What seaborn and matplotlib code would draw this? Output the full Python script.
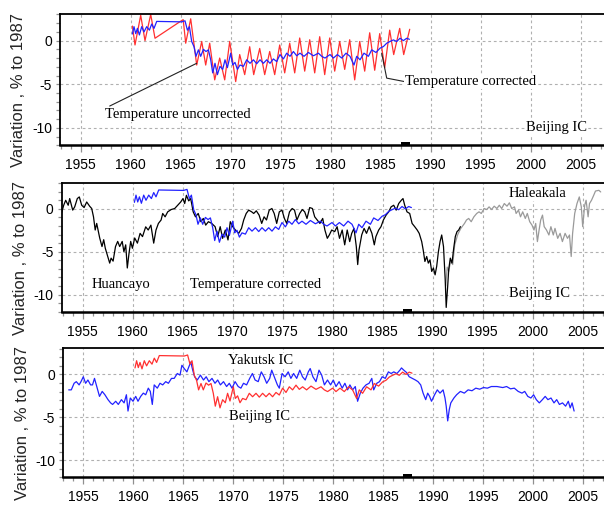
import matplotlib
matplotlib.use("Agg")
import matplotlib.pyplot as plt
import seaborn as sns
import numpy as np
from matplotlib.ticker import MultipleLocator

# ---------------- data ----------------
# Beijing IC, temperature corrected
BJ_C_YEAR = [1960.17, 1960.33, 1960.5, 1960.67, 1960.87, 1961.1, 1961.33, 1961.6, 1961.87, 1962.1,
             1962.33, 1962.6, 1965.1, 1965.43, 1965.67, 1965.87, 1966.1, 1966.33, 1966.53, 1966.77,
             1967.0, 1967.27, 1967.53, 1967.77, 1968.0, 1968.2, 1968.43, 1968.67, 1968.93, 1969.2,
             1969.43, 1969.67, 1970.0, 1970.2, 1970.43, 1970.67, 1970.93, 1971.27, 1971.6, 1971.93,
             1972.27, 1972.6, 1972.93, 1973.27, 1973.6, 1973.93, 1974.27, 1974.6, 1974.93, 1975.27,
             1975.6, 1975.93, 1976.27, 1976.6, 1976.93, 1977.33, 1977.77, 1978.27, 1978.77, 1979.1,
             1979.43, 1979.93, 1980.27, 1980.67, 1981.1, 1981.53, 1981.93, 1982.33, 1982.6, 1982.93,
             1983.33, 1983.77, 1984.1, 1984.53, 1984.93, 1985.27, 1985.6, 1985.93, 1986.27, 1986.6,
             1986.93, 1987.27, 1987.6, 1987.87]
BJ_C_VAL = [0.76, 1.6, 0.8, 1.4, 0.65, 1.6, 1.0, 1.6, 1.2, 1.9,
            1.4, 2.2, 2.15, 2.27, 1.2, 1.6, -0.1, -0.7, -1.8, -1.06,
            -1.8, -1.0, -1.25, -1.06, -2.2, -3.7, -2.6, -3.9, -2.95, -3.3,
            -2.2, -3.1, -1.44, -2.8, -2.5, -3.3, -2.8, -2.95, -2.2, -2.6,
            -2.2, -2.65, -2.2, -2.6, -2.2, -2.6, -2.1, -2.4, -1.6, -2.1,
            -1.44, -1.8, -1.25, -1.74, -1.44, -1.8, -1.36, -1.74, -1.44, -1.8,
            -2.0, -1.6, -2.0, -1.6, -2.0, -1.44, -1.8, -2.8, -1.8, -2.2,
            -1.44, -1.8, -1.06, -1.36, -0.87, -0.68, -0.3, -0.1, 0.08, -0.1,
            0.27, 0.0, 0.27, 0.15]

# Beijing IC, temperature uncorrected
BJ_U_YEAR = [1960.17, 1960.43, 1961.0, 1961.43, 1962.0, 1962.43, 1965.1, 1965.25, 1965.5, 1966.0,
             1966.6, 1967.1, 1967.5, 1967.9, 1968.4, 1968.9, 1969.4, 1969.9, 1970.5, 1970.9,
             1971.4, 1971.9, 1972.3, 1972.9, 1973.4, 1973.9, 1974.4, 1974.9, 1975.4, 1975.9,
             1976.4, 1976.9, 1977.4, 1977.9, 1978.4, 1978.9, 1979.4, 1979.9, 1980.4, 1980.9,
             1981.4, 1981.9, 1982.4, 1982.9, 1983.4, 1983.9, 1984.4, 1984.9, 1985.4, 1985.9,
             1986.3, 1986.9, 1987.3, 1987.9]
BJ_U_VAL = [1.67, -0.5, 2.9, 0.0, 3.0, 0.27, 2.3, 2.4, -0.3, 2.5,
            -2.8, -0.1, -2.8, -0.3, -4.5, -2.0, -4.5, -0.1, -4.7, -1.6,
            -3.9, -0.7, -3.9, -0.9, -3.9, -1.25, -3.9, -0.5, -3.7, -0.3,
            -3.7, 0.3, -3.5, 0.1, -3.7, 0.45, -3.9, 0.3, -3.5, -0.1,
            -3.3, 0.1, -4.5, -0.1, -3.5, 0.9, -3.4, 0.8, -3.1, 1.2,
            -1.6, 1.4, -1.6, 1.3]

# Huancayo
HU_YEAR = [1952.87, 1953.1, 1953.3, 1953.55, 1953.7, 1954.0, 1954.2, 1954.46, 1954.66, 1954.9,
           1955.14, 1955.4, 1955.7, 1955.9, 1956.08, 1956.25, 1956.4, 1956.7, 1956.93, 1957.1,
           1957.26, 1957.5, 1957.7, 1957.84, 1958.04, 1958.28, 1958.5, 1958.7, 1958.95, 1959.12,
           1959.3, 1959.46, 1959.63, 1959.8, 1959.97, 1960.2, 1960.47, 1960.74, 1960.98, 1961.3,
           1961.55, 1961.82, 1962.1, 1962.33, 1962.57, 1962.84, 1963.0, 1963.24, 1963.5, 1963.85,
           1964.2, 1964.5, 1964.8, 1965.03, 1965.2, 1965.37, 1965.6, 1965.8, 1966.05, 1966.28,
           1966.55, 1966.82, 1967.06, 1967.3, 1967.57, 1967.9, 1968.24, 1968.5, 1968.75, 1968.99,
           1969.26, 1969.53, 1969.76, 1970.0, 1970.27, 1970.6, 1970.88, 1971.1, 1971.35, 1971.6,
           1971.9, 1972.1, 1972.36, 1972.64, 1972.9, 1973.14, 1973.38, 1973.65, 1973.92, 1974.15,
           1974.4, 1974.66, 1974.93, 1975.17, 1975.4, 1975.68, 1975.95, 1976.18, 1976.42, 1976.7,
           1976.96, 1977.2, 1977.43, 1977.7, 1977.97, 1978.2, 1978.45, 1978.72, 1979.0, 1979.22,
           1979.46, 1979.66, 1979.9, 1980.2, 1980.44, 1980.68, 1980.95, 1981.2, 1981.45, 1981.7,
           1981.9, 1982.13, 1982.36, 1982.5, 1982.63, 1982.9, 1983.14, 1983.38, 1983.65, 1983.92,
           1984.16, 1984.32, 1984.6, 1984.83, 1985.07, 1985.34, 1985.6, 1985.84, 1986.1, 1986.35,
           1986.6, 1986.86, 1987.03, 1987.2, 1987.43, 1987.7, 1987.94, 1988.2, 1988.45, 1988.65,
           1988.9, 1989.05, 1989.22, 1989.4, 1989.56, 1989.73, 1989.9, 1990.07, 1990.24, 1990.4,
           1990.57, 1990.74, 1990.9, 1991.08, 1991.25, 1991.35, 1991.5, 1991.6, 1991.76, 1991.93,
           1992.1, 1992.26, 1992.43, 1992.6, 1992.77]
HU_VAL = [-0.54, 0.42, 1.0, 0.42, 1.2, -0.15, 0.23, 1.2, 1.39, 0.42,
          0.15, 0.8, 0.3, 0.04, -0.93, -2.47, -1.7, -3.4, -4.4, -3.6,
          -4.6, -5.56, -6.33, -5.75, -6.1, -4.4, -3.8, -4.4, -3.8, -5.0,
          -4.2, -6.9, -5.2, -3.8, -4.6, -3.4, -4.0, -2.86, -3.24, -2.1,
          -2.47, -1.9, -4.0, -2.47, -1.7, -1.3, -0.54, -0.93, -0.35, -0.08,
          0.04, 0.42, 0.8, 1.2, 0.62, 1.58, 0.93, 1.2, -0.35, -0.93,
          -0.54, -1.5, -1.12, -1.9, -1.5, -1.7, -2.08, -3.24, -2.08, -3.44,
          -2.47, -3.63, -1.5, -2.08, -2.47, -2.86, -2.28, -1.3, -0.54, -0.15,
          -0.35, -0.54, -0.23, -0.73, -1.7, -0.93, -1.3, -0.15, 0.04, -0.54,
          -1.7, -0.35, -0.15, -1.12, -1.7, -0.35, 0.04, -0.15, -1.3, -0.54,
          -0.08, -0.35, -1.12, 0.15, 0.04, -0.93, -1.3, -1.7, -1.12, -2.47,
          -3.44, -3.05, -2.47, -2.66, -2.08, -3.44, -2.47, -4.2, -2.47, -3.82,
          -2.86, -2.28, -4.4, -6.5, -4.8, -3.05, -2.28, -2.86, -2.08, -2.86,
          -4.2, -3.24, -2.47, -2.08, -1.3, -0.73, -0.35, 0.23, 0.42, -0.15,
          0.62, 1.0, 1.2, 0.42, -0.35, -0.54, -1.7, -2.08, -2.47, -2.86,
          -3.82, -4.8, -6.14, -5.56, -6.33, -5.95, -7.3, -6.9, -7.7, -6.7,
          -5.0, -3.8, -3.05, -4.4, -8.26, -11.5, -9.0, -7.1, -5.75, -6.33,
          -4.6, -3.24, -2.66, -2.47, -2.08]

# Haleakala
HA_YEAR = [1991.3, 1991.45, 1991.6, 1991.8, 1992.0, 1992.2, 1992.5, 1992.8, 1992.94, 1993.18,
           1993.38, 1993.6, 1993.85, 1994.12, 1994.4, 1994.63, 1994.86, 1995.14, 1995.4, 1995.64,
           1995.88, 1996.15, 1996.42, 1996.66, 1996.9, 1997.16, 1997.43, 1997.67, 1997.9, 1998.18,
           1998.34, 1998.58, 1998.78, 1999.0, 1999.26, 1999.46, 1999.7, 1999.93, 2000.13, 2000.3,
           2000.47, 2000.64, 2000.8, 2000.98, 2001.15, 2001.38, 2001.62, 2001.82, 2002.06, 2002.23,
           2002.5, 2002.74, 2002.97, 2003.24, 2003.48, 2003.68, 2003.85, 2003.99, 2004.2, 2004.43,
           2004.66, 2004.86, 2005.0, 2005.2, 2005.34, 2005.54, 2005.68, 2005.88, 2006.1, 2006.28,
           2006.62, 2006.8]
HA_VAL = [-9.0, -6.8, -7.3, -6.0, -6.5, -4.2, -3.0, -2.3, -2.08, -1.7,
          -1.3, -1.12, -1.5, -0.93, -0.54, -0.35, -0.54, 0.04, -0.08, 0.23,
          -0.08, 0.31, 0.04, 0.42, 0.04, 0.62, 0.31, 0.7, 0.04, 0.23,
          -0.54, -0.15, -0.93, -0.35, -1.12, -0.54, -1.5, -1.9, -2.47, -1.7,
          -3.82, -2.47, -1.3, -0.73, -2.08, -2.47, -3.05, -2.08, -3.05, -2.28,
          -3.44, -2.86, -3.82, -2.86, -3.44, -3.05, -5.56, -2.86, -0.54, 0.62,
          1.39, 0.23, -2.08, 0.42, 1.0, -0.93, 0.62, 1.0, 1.58, 2.08,
          2.16, 1.97]

# Yakutsk IC
YK_YEAR = [1953.54, 1953.8, 1954.08, 1954.3, 1954.58, 1954.77, 1955.0, 1955.23, 1955.46, 1955.73,
           1955.92, 1956.12, 1956.39, 1956.62, 1956.89, 1957.16, 1957.47, 1957.73, 1957.93, 1958.24,
           1958.5, 1958.81, 1959.08, 1959.31, 1959.47, 1959.7, 1959.97, 1960.24, 1960.47, 1960.74,
           1961.0, 1961.24, 1961.5, 1961.7, 1961.9, 1962.09, 1962.4, 1962.67, 1962.94, 1963.24,
           1963.51, 1963.82, 1964.09, 1964.4, 1964.67, 1964.86, 1965.09, 1965.36, 1965.55, 1965.75,
           1965.94, 1966.13, 1966.4, 1966.71, 1967.02, 1967.29, 1967.56, 1967.87, 1968.17, 1968.44,
           1968.71, 1969.02, 1969.33, 1969.6, 1969.87, 1970.18, 1970.49, 1970.76, 1971.02, 1971.33,
           1971.64, 1971.91, 1972.18, 1972.49, 1972.8, 1973.07, 1973.34, 1973.64, 1973.84, 1974.1,
           1974.41, 1974.6, 1974.88, 1975.18, 1975.49, 1975.76, 1976.03, 1976.34, 1976.65, 1976.92,
           1977.19, 1977.5, 1977.69, 1977.96, 1978.27, 1978.57, 1978.84, 1979.11, 1979.42, 1979.73,
           1980.0, 1980.27, 1980.58, 1980.89, 1981.16, 1981.43, 1981.66, 1981.93, 1982.2, 1982.43,
           1982.7, 1982.97, 1983.27, 1983.58, 1983.85, 1984.04, 1984.35, 1984.62, 1984.89, 1985.2,
           1985.51, 1985.78, 1986.05, 1986.36, 1986.66, 1986.82, 1987.05, 1987.32, 1987.59, 1987.9,
           1988.21, 1988.47, 1988.74, 1988.98, 1989.24, 1989.44, 1989.63, 1989.82, 1990.13, 1990.4,
           1990.67, 1990.98, 1991.17, 1991.29, 1991.44, 1991.6, 1991.75, 1992.06, 1992.33, 1992.71,
           1993.1, 1993.48, 1993.87, 1994.25, 1994.64, 1995.02, 1995.41, 1995.8, 1996.37, 1996.95,
           1997.33, 1997.72, 1998.1, 1998.49, 1998.87, 1999.14, 1999.45, 1999.76, 2000.03, 2000.3,
           2000.6, 2000.91, 2001.19, 2001.46, 2001.77, 2002.07, 2002.34, 2002.61, 2002.92, 2003.23,
           2003.5, 2003.69, 2003.88, 2004.08]
YK_VAL = [-1.8, -1.8, -1.03, -0.84, -1.22, -0.84, -0.27, -1.03, -0.65, -1.22,
          -1.22, -0.46, -1.6, -2.56, -1.98, -2.37, -2.94, -3.32, -3.5, -3.13,
          -3.5, -2.94, -3.32, -2.37, -4.27, -2.75, -3.13, -2.56, -3.13, -2.56,
          -2.18, -2.37, -1.6, -1.98, -3.5, -1.22, -1.6, -1.03, -1.22, -0.84,
          -1.03, -0.46, -0.46, 0.11, -0.08, 1.07, 0.69, 0.3, 0.88, 1.45,
          0.5, -0.27, -0.65, -0.08, -0.65, -0.27, -0.84, -0.46, -1.03, -0.65,
          -1.22, -0.84, -1.41, -1.03, -1.6, -0.84, -1.41, -1.6, -1.03, -1.22,
          -0.46, 0.11, -0.65, -0.84, 0.3, -0.27, -1.03, -0.46, 0.5, -0.27,
          -1.22, -1.6, 0.11, -0.27, 0.3, -0.46, 0.11, -0.46, 0.5, -0.27,
          -0.65, 0.3, 0.69, -0.27, -0.84, 0.5, -0.08, -1.22, -0.65, -1.22,
          -0.65, -1.41, -0.84, -1.6, -1.03, -1.8, -1.22, -1.8, -1.41, -3.13,
          -2.18, -1.6, -1.22, -1.03, -0.46, -1.8, -1.03, -0.84, -0.27, -0.46,
          0.3, 0.11, 0.3, 0.11, 0.5, 0.76, 0.5, 0.23, -0.27, -0.46,
          -0.65, -0.84, -1.22, -2.18, -2.94, -2.18, -2.56, -3.13, -2.37, -1.8,
          -2.18, -1.8, -2.75, -3.7, -5.42, -4.08, -3.32, -2.75, -2.37, -1.98,
          -2.18, -1.8, -1.9, -1.6, -1.72, -1.53, -1.6, -1.41, -1.41, -1.53,
          -1.41, -1.68, -1.6, -1.98, -2.18, -1.98, -2.56, -2.75, -2.37, -2.94,
          -3.32, -2.94, -2.56, -2.94, -2.75, -3.32, -2.94, -3.5, -3.32, -3.7,
          -3.13, -3.9, -3.32, -4.27]

REF_PERIOD = [1987.0, 1987.9]
X_TICKS = [1955, 1960, 1965, 1970, 1975, 1980, 1985, 1990, 1995, 2000, 2005]
Y_TICKS = [0, -5, -10]
Y_LABEL = "Variation , % to 1987"

# ---------------- style ----------------
sns.set_theme(style="white")
plt.rcParams['font.family'] = ['Liberation Sans', 'DejaVu Sans']
SERIF = ['Liberation Serif', 'DejaVu Serif']

RED = '#ff3030'
BLUE = '#2222ff'
GRAY = '#9a9a9a'

fig = plt.figure(figsize=(6.04, 5.08), dpi=100)
W, H = 604.0, 508.0

# (left px, top px, bottom px, x at 1955 px)
PANELS = [(60.0, 14.0, 145.3, 80.7),
          (61.7, 182.7, 311.7, 82.7),
          (63.3, 348.3, 477.3, 83.3)]

axes = []
for (lpx, tpx, bpx, x55) in PANELS:
    ax = fig.add_axes([lpx / W, 1 - bpx / H, (W - lpx) / W, (bpx - tpx) / H])
    ax.set_xlim(1955 - (x55 - lpx) / 10.0, 1955 + (W - x55) / 10.0)
    ax.set_ylim(-12, 3.05)
    axes.append(ax)


def style_axis(ax):
    ax.set_facecolor('white')
    ax.xaxis.set_major_locator(plt.FixedLocator(X_TICKS))
    ax.xaxis.set_minor_locator(MultipleLocator(1))
    ax.yaxis.set_major_locator(plt.FixedLocator(Y_TICKS))
    ax.yaxis.set_minor_locator(MultipleLocator(1))
    ax.set_xticklabels([str(t) for t in X_TICKS])
    ax.set_yticklabels([str(t) for t in Y_TICKS])
    ax.grid(True, which='major', color='#b0b0b0', linestyle=(0, (2.5, 2.5)), linewidth=0.8)
    ax.tick_params(axis='x', which='major', direction='out', length=5, width=0.9,
                   color='#909090', labelsize=10, pad=4.5, labelcolor='black', bottom=True)
    ax.tick_params(axis='x', which='minor', direction='out', length=2.6, width=0.9,
                   color='#909090', bottom=True)
    ax.tick_params(axis='y', which='major', direction='out', length=2.8, width=0.9,
                   color='#909090', labelsize=10, pad=3, labelcolor='black', left=True)
    ax.tick_params(axis='y', which='minor', direction='out', length=2.8, width=0.9,
                   color='#909090', left=True)
    for s in ['left', 'top', 'bottom']:
        ax.spines[s].set_visible(True)
        ax.spines[s].set_color('black')
    ax.spines['right'].set_visible(False)
    ax.spines['left'].set_linewidth(1.3)
    ax.spines['top'].set_linewidth(1.3)
    ax.spines['bottom'].set_linewidth(1.8)
    ax.set_xlabel('')
    ax.set_ylabel(Y_LABEL, fontsize=12, va='center')
    ax.yaxis.set_label_coords(-0.076, 0.42)
    ax.axvspan(REF_PERIOD[0], REF_PERIOD[1], ymin=0, ymax=0.022, color='black', lw=0, zorder=5)


def serif_text(ax, x, y, s, ha='center'):
    ax.text(x, y, s, fontsize=10.5, family=SERIF, ha=ha, va='center', color='black',
            bbox=dict(facecolor='white', edgecolor='none', pad=0.5), zorder=6)


LW = 0.9

# ---- panel 1 ----
ax = axes[0]
sns.lineplot(x=BJ_U_YEAR, y=BJ_U_VAL, ax=ax, color=RED, lw=LW, estimator=None, sort=False, legend=False)
sns.lineplot(x=BJ_C_YEAR, y=BJ_C_VAL, ax=ax, color=BLUE, lw=LW, estimator=None, sort=False, legend=False)
style_axis(ax)
ax.plot([1957.9, 1966.6], [-7.5, -2.6], color='#222222', lw=0.8, zorder=4)
ax.plot([1985.1, 1985.6, 1987.4], [-1.44, -4.3, -4.7], color='#222222', lw=0.8, zorder=4)
serif_text(ax, 1964.7, -8.5, "Temperature uncorrected")
serif_text(ax, 1987.45, -4.7, "Temperature corrected", ha='left')
serif_text(ax, 2002.6, -10.0, "Beijing IC")

# ---- panel 2 ----
ax = axes[1]
sns.lineplot(x=HA_YEAR, y=HA_VAL, ax=ax, color=GRAY, lw=LW, estimator=None, sort=False, legend=False)
sns.lineplot(x=HU_YEAR, y=HU_VAL, ax=ax, color='black', lw=LW, estimator=None, sort=False, legend=False)
sns.lineplot(x=BJ_C_YEAR, y=BJ_C_VAL, ax=ax, color=BLUE, lw=LW, estimator=None, sort=False, legend=False)
style_axis(ax)
serif_text(ax, 2000.5, 1.75, "Haleakala")
serif_text(ax, 1958.8, -8.85, "Huancayo")
serif_text(ax, 1972.3, -8.85, "Temperature corrected")
serif_text(ax, 2000.7, -9.85, "Beijing IC")

# ---- panel 3 ----
ax = axes[2]
sns.lineplot(x=YK_YEAR, y=YK_VAL, ax=ax, color=BLUE, lw=LW, estimator=None, sort=False, legend=False)
sns.lineplot(x=BJ_C_YEAR, y=BJ_C_VAL, ax=ax, color=RED, lw=LW, estimator=None, sort=False, legend=False)
style_axis(ax)
serif_text(ax, 1972.7, 1.64, "Yakutsk IC")
serif_text(ax, 1972.6, -4.85, "Beijing IC")

fig.savefig("out.png", dpi=100)
